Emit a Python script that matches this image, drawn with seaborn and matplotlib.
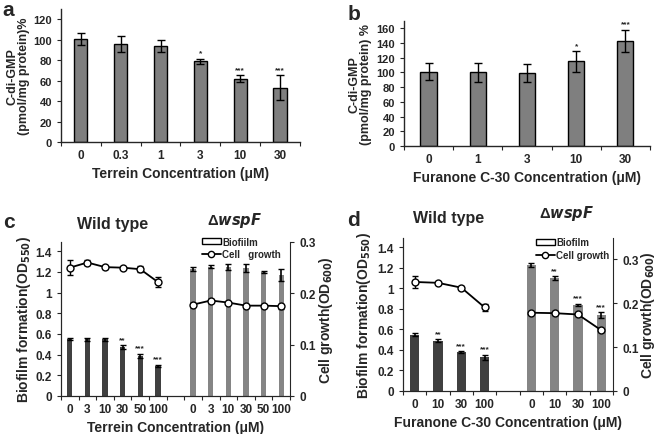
import numpy as np
import pandas as pd
import seaborn as sns
import matplotlib.pyplot as plt
from matplotlib.patches import Patch
from matplotlib.lines import Line2D

sns.set_style("ticks")
plt.rcParams['font.family'] = ['Liberation Sans', 'DejaVu Sans']
plt.rcParams['font.weight'] = 'bold'
plt.rcParams['axes.labelweight'] = 'bold'
plt.rcParams['mathtext.default'] = 'bf'

# panel a
a_conc = ['0', '0.3', '1', '3', '10', '30']
a_val = [101, 96, 94, 79, 62, 53]
a_err = [6, 8, 6, 2.5, 3, 12]
a_sig = ['', '', '', '*', '***', '***']

# panel b
b_conc = ['0', '1', '3', '10', '30']
b_val = [101, 100, 99, 115, 143]
b_err = [11, 13, 12, 14, 15]
b_sig = ['', '', '', '*', '***']

# panel c
c_conc = ['0', '3', '10', '30', '50', '100']
c_wt_bio = [0.555, 0.548, 0.548, 0.47, 0.39, 0.29]
c_wt_bio_err = [0.01, 0.015, 0.015, 0.02, 0.02, 0.012]
c_wt_sig = ['', '', '', '**', '***', '***']
c_mut_bio = [1.226, 1.25, 1.25, 1.24, 1.2, 1.17]
c_mut_bio_err = [0.02, 0.015, 0.03, 0.04, 0.01, 0.055]
c_wt_grow = [0.25, 0.26, 0.251, 0.25, 0.247, 0.222]
c_wt_grow_err = [0.014, 0.004, 0.003, 0.002, 0.006, 0.01]
c_mut_grow = [0.178, 0.186, 0.182, 0.176, 0.176, 0.175]
c_mut_grow_err = [0.003, 0.003, 0.002, 0.004, 0.002, 0.005]

# panel d
d_conc = ['0', '10', '30', '100']
d_wt_bio = [0.55, 0.49, 0.38, 0.33]
d_wt_bio_err = [0.01, 0.015, 0.01, 0.025]
d_wt_sig = ['', '**', '***', '***']
d_mut_bio = [1.23, 1.1, 0.84, 0.74]
d_mut_bio_err = [0.02, 0.02, 0.01, 0.03]
d_mut_sig = ['', '**', '***', '***']
d_wt_grow = [0.248, 0.246, 0.235, 0.19]
d_wt_grow_err = [0.014, 0.002, 0.003, 0.007]
d_mut_grow = [0.178, 0.177, 0.174, 0.138]
d_mut_grow_err = [0.002, 0.002, 0.002, 0.003]

dark = '#404040'
light = '#858585'
fs = 8.5

fig = plt.figure(figsize=(6.6, 4.35), dpi=100)


def slot_ticks(ax, n):
    ax.set_xlim(-0.5, n - 0.5)
    ax.set_xticks(np.arange(n + 1) - 0.5)
    ax.set_xticklabels([''] * (n + 1))
    ax.tick_params(axis='x', which='major', length=3, direction='out')


def simple_panel(rect, conc, val, err, sig, ylim, yticks, ylabel, xlabel, lab_x):
    ax = fig.add_axes(rect)
    df = pd.DataFrame({'conc': conc, 'val': val})
    sns.barplot(data=df, x='conc', y='val', color='#7f7f7f', edgecolor='black',
                linewidth=1, width=0.33, saturation=1, ax=ax, errorbar=None)
    x = np.arange(len(conc))
    ax.errorbar(x, val, yerr=err, fmt='none', ecolor='black', capsize=3, elinewidth=1)
    for i in x:
        if sig[i]:
            ax.text(i, val[i] + err[i] + ylim[1] * 0.015, sig[i], ha='center', va='bottom', fontsize=6)
    n = len(conc)
    slot_ticks(ax, n)
    ax.set_xticks(x, minor=True)
    ax.set_xticklabels(conc, minor=True, fontsize=fs)
    ax.tick_params(axis='x', which='minor', length=0, pad=5)
    ax.set_ylim(*ylim)
    ax.set_yticks(yticks)
    ax.set_yticklabels([str(t) for t in yticks], fontsize=8)
    ax.tick_params(axis='y', length=3)
    ax.set_ylabel(ylabel, fontsize=9, linespacing=1.0)
    ax.yaxis.set_label_coords(lab_x, 0.5)
    ax.set_xlabel(xlabel, fontsize=10, labelpad=4)
    sns.despine(ax=ax)
    ax.spines['left'].set_linewidth(1)
    ax.spines['bottom'].set_linewidth(1)
    return ax


simple_panel([0.0924, 0.6713, 0.3621, 0.3057], a_conc, a_val, a_err, a_sig, (0, 130),
             [0, 20, 40, 60, 80, 100, 120], 'C-di-GMP\n(pmol/mg protein)%',
             'Terrein Concentration (\u03bcM)', -0.128)
simple_panel([0.6121, 0.6621, 0.3727, 0.2862], b_conc, b_val, b_err, b_sig, (0, 169),
             [0, 20, 40, 60, 80, 100, 120, 140, 160], 'C-di-GMP\n(pmol/mg protein) %',
             'Furanone C-30 Concentration (\u03bcM)', -0.13)


def growth_panel(rect, conc, wt_bio, wt_bio_err, wt_sig, mut_bio, mut_bio_err, mut_sig,
                 wt_grow, wt_grow_err, mut_grow, mut_grow_err, ylim2, bar_w, xlabel,
                 bio_lab, grow_lab, leg_pos, lab_l, lab_r):
    ax = fig.add_axes(rect)
    k = len(conc)
    n = 2 * k + 1
    wt_x = np.arange(k)
    mut_x = np.arange(k) + k + 1
    df = pd.DataFrame({'pos': np.concatenate([wt_x, mut_x]),
                       'val': wt_bio + mut_bio,
                       'grp': ['wt'] * k + ['mut'] * k})
    sns.barplot(data=df, x='pos', y='val', hue='grp', palette={'wt': dark, 'mut': light},
                native_scale=True, dodge=False, width=bar_w, saturation=1, linewidth=0,
                errorbar=None, legend=False, ax=ax)
    ax.errorbar(wt_x, wt_bio, yerr=wt_bio_err, fmt='none', ecolor='black', capsize=2.5, elinewidth=1.2)
    ax.errorbar(mut_x, mut_bio, yerr=mut_bio_err, fmt='none', ecolor='black', capsize=2.5, elinewidth=1.2)
    for xs, vals, errs, sigs in [(wt_x, wt_bio, wt_bio_err, wt_sig), (mut_x, mut_bio, mut_bio_err, mut_sig)]:
        for i in range(k):
            if sigs[i]:
                ax.text(xs[i], vals[i] + errs[i] + 0.02, sigs[i], ha='center', va='bottom', fontsize=6)
    slot_ticks(ax, n)
    ax.set_xticks(np.concatenate([wt_x, mut_x]), minor=True)
    ax.set_xticklabels(conc + conc, minor=True, fontsize=fs)
    ax.tick_params(axis='x', which='minor', length=0, pad=5)
    ax.set_ylim(0, 1.49)
    ax.set_yticks([0, 0.2, 0.4, 0.6, 0.8, 1, 1.2, 1.4])
    ax.set_yticklabels(['0', '0.2', '0.4', '0.6', '0.8', '1', '1.2', '1.4'], fontsize=fs)
    ax.set_ylabel('Biofilm formation(OD$_{550}$)', fontsize=10)
    ax.yaxis.set_label_coords(lab_l, 0.5)
    ax.set_xlabel(xlabel, fontsize=10, labelpad=4)
    ax.spines['top'].set_visible(False)
    ax.spines['right'].set_visible(False)

    ax2 = ax.twinx()
    gdf = pd.DataFrame({'pos': np.concatenate([wt_x, mut_x]),
                        'g': wt_grow + mut_grow,
                        'grp': ['wt'] * k + ['mut'] * k})
    sns.lineplot(data=gdf, x='pos', y='g', units='grp', estimator=None, color='black',
                 linewidth=1.3, marker='o', markersize=5, markerfacecolor='white',
                 markeredgecolor='black', markeredgewidth=1, ax=ax2, zorder=3)
    ax2.errorbar(wt_x, wt_grow, yerr=wt_grow_err, fmt='none', ecolor='black', capsize=2.5, elinewidth=1, zorder=2)
    ax2.errorbar(mut_x, mut_grow, yerr=mut_grow_err, fmt='none', ecolor='black', capsize=2.5, elinewidth=1, zorder=2)
    ax2.set_ylim(*ylim2)
    ax2.set_yticks([0, 0.1, 0.2, 0.3])
    ax2.set_yticklabels(['0', '0.1', '0.2', '0.3'], fontsize=fs)
    ax2.set_ylabel('Cell growth(OD$_{600}$)', fontsize=10)
    ax2.yaxis.set_label_coords(lab_r, 0.5)
    ax2.set_xlabel('')
    ax2.spines['top'].set_visible(False)
    ax2.tick_params(axis='y', length=3)
    ax.tick_params(axis='y', length=3)

    handles = [Patch(facecolor='white', edgecolor='black', linewidth=1),
               Line2D([0], [0], color='black', lw=1.3, marker='o', markersize=4.5,
                      markerfacecolor='white', markeredgecolor='black')]
    ax2.legend(handles, [bio_lab, grow_lab], loc='upper left', bbox_to_anchor=leg_pos,
               bbox_transform=fig.transFigure, frameon=False, fontsize=7,
               handlelength=2.0, handletextpad=0.15, labelspacing=0.25, borderpad=0,
               handleheight=0.6)
    return ax


growth_panel([0.0924, 0.0874, 0.3470, 0.3540], c_conc, c_wt_bio, c_wt_bio_err, c_wt_sig,
             c_mut_bio, c_mut_bio_err, [''] * 6, c_wt_grow, c_wt_grow_err,
             c_mut_grow, c_mut_grow_err, (0, 0.3), 0.3, 'Terrein Concentration (\u03bcM)',
             'Biofiilm', 'Cell   growth', (0.298, 0.465), -0.122, 1.12)
growth_panel([0.6106, 0.0989, 0.3182, 0.3517], d_conc, d_wt_bio, d_wt_bio_err, d_wt_sig,
             d_mut_bio, d_mut_bio_err, d_mut_sig, d_wt_grow, d_wt_grow_err,
             d_mut_grow, d_mut_grow_err, (0, 0.348), 0.4, 'Furanone C-30 Concentration (\u03bcM)',
             'Biofilm', 'Cell growth', (0.804, 0.463), -0.143, 1.125)

# panel letters and group titles
for x, y, s in [(0.003, 0.998, 'a'), (0.526, 0.988, 'b'), (0.005, 0.51, 'c'), (0.526, 0.515, 'd')]:
    fig.text(x, y, s, fontsize=15, fontweight='bold', va='top')
fig.text(0.171, 0.485, 'Wild type', fontsize=11.5, fontweight='bold', ha='center', va='center')
fig.text(0.356, 0.492, '\u0394$\\mathbf{\\mathit{wspF}}$', fontsize=10.5, ha='center', va='center')
fig.text(0.679, 0.497, 'Wild type', fontsize=11.5, fontweight='bold', ha='center', va='center')
fig.text(0.859, 0.510, '\u0394$\\mathbf{\\mathit{wspF}}$', fontsize=10.5, ha='center', va='center')

fig.savefig('out.png', dpi=100)
